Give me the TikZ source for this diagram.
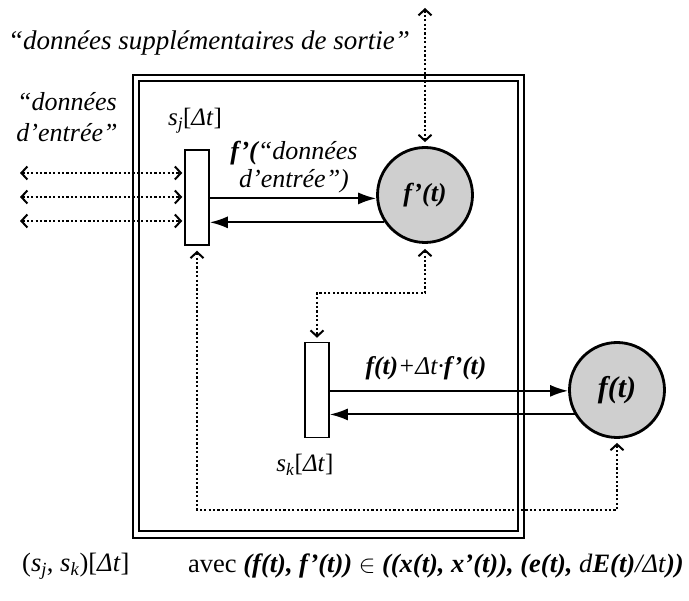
\documentclass[tikz,border=0pt]{standalone}
\usepackage{fontspec}
\setmainfont{Liberation Serif}
\usetikzlibrary{arrows.meta}
\begin{document}
\begin{tikzpicture}[x=1pt,y=-1pt,
  statebox/.style={draw,line width=1.5pt,fill=white,inner sep=0pt,minimum width=24pt,minimum height=95pt},
  circ/.style={circle,draw,line width=2.8pt,fill=black!19,inner sep=0pt,minimum size=95pt,font=\fontsize{26}{30}\selectfont\bfseries\itshape},
  lbl/.style={inner sep=0pt,font=\fontsize{22}{26}\selectfont\itshape},
  flow/.style={line width=2pt,-{Latex[length=18pt,width=12pt]}},
  dots/.style={line width=2.2pt,dash pattern=on 2.2pt off 2.2pt,{Straight Barb[length=6pt,width=13pt,line width=2pt]}-{Straight Barb[length=6pt,width=13pt,line width=2pt]}},
  frameline/.style={line width=2pt}
]
\useasboundingbox (0,0) rectangle (689,601);
% frame
\draw[frameline] (133,75) rectangle (524,538);
\draw[line width=1.6pt] (139,81) rectangle (518,531);
% nodes
\node[statebox] (sj) at (197,197.5) {};
\node[statebox] (sk) at (317,390) {};
\node[circ] (fp) at (425,195) {f’(t)};
\node[circ,font=\fontsize{30}{34}\selectfont\bfseries\itshape] (f) at (617,390) {f(t)};
\coordinate (top) at (425,8);
\coordinate (in1) at (20,173);
\coordinate (in2) at (20,197);
\coordinate (in3) at (20,221);
\coordinate (mid) at (425,293);
\coordinate (lb) at (197,510);
% connectors
\draw[flow] (sj.east |- fp.184) -- (fp.184);
\draw[flow] (fp.214) -- (sj.east |- fp.214);
\draw[flow] (sk.east |- f.181) -- (f.181);
\draw[flow] (f.210) -- (sk.east |- f.210);
\draw[dots,shorten >=4pt] (top) -- (fp.north);
\foreach \i in {in1,in2,in3} \draw[dots,shorten >=2pt] (\i) -- (sj.west |- \i);
\draw[dots,shorten <=5pt,shorten >=4pt] (fp.south) -- (mid) -| (sk.north);
\draw[dots,shorten <=5pt,shorten >=4pt] (sj.south) -- (lb) -| (f.south);
% labels
\node[lbl,font=\fontsize{27}{30}\selectfont\itshape] (sup) at (209,43) {“données supplémentaires de sortie”};
\node[lbl,align=center,font=\fontsize{26}{31}\selectfont\itshape] (inl) at (67,117) {“données\\d’entrée”};
\node[lbl,font=\fontsize{25}{28}\selectfont] (sjl) at (195,121) {\textit{s}\textsubscript{\textit{j}}[\textit{Δt}]};
\node[lbl,align=center,font=\fontsize{26}{28}\selectfont\itshape] (fpl) at (294,167) {\textbf{f’(}“données\\d’entrée”)};
\node[lbl,font=\fontsize{25.5}{28}\selectfont] (fl) at (426,368) {\textbf{\textit{f(t)}}\textit{+Δt·}\textbf{\textit{f’(t)}}};
\node[lbl,font=\fontsize{25}{28}\selectfont] (skl) at (305,465) {\textit{s}\textsubscript{\textit{k}}[\textit{Δt}]};
\node[lbl,font=\fontsize{26.5}{30}\selectfont,anchor=west] (b1) at (22,566) {(\textit{s}\textsubscript{\textit{j}}, \textit{s}\textsubscript{\textit{k}})[\textit{Δt}]};
\node[lbl,font=\fontsize{26.5}{30}\selectfont,anchor=west] (b2) at (188,566) {avec \textbf{\textit{(f(t), f’(t))}} $\in$ \textbf{\textit{((x(t), x’(t)), (e(t), }}\textit{d}\textbf{\textit{E(t)}}\textit{/Δt}\textbf{\textit{))}}};
\end{tikzpicture}
\end{document}
